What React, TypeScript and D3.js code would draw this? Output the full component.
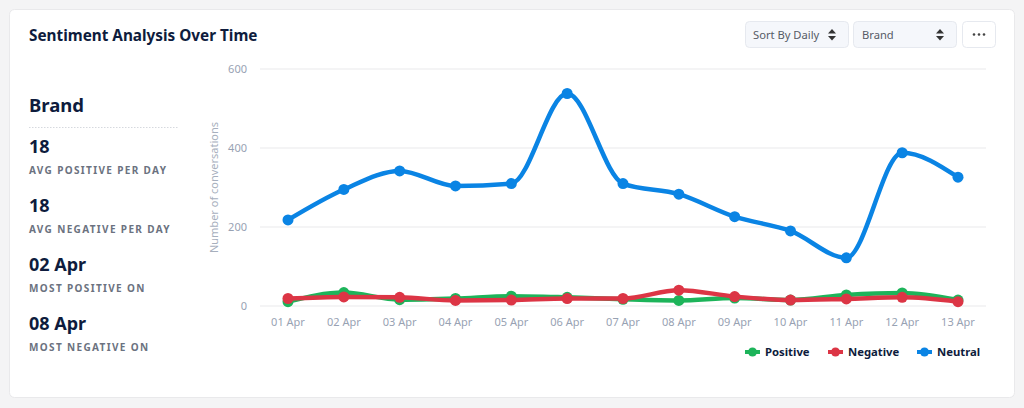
import React from "react";
import * as d3 from "d3";

const categories = ["01 Apr", "02 Apr", "03 Apr", "04 Apr", "05 Apr", "06 Apr", "07 Apr", "08 Apr", "09 Apr", "10 Apr", "11 Apr", "12 Apr", "13 Apr"];
const positive = [11, 34, 16, 19, 25, 22, 17, 14, 20, 15, 28, 33, 15];
const negative = [19, 23, 22, 14, 15, 19, 19, 40, 24, 15, 18, 22, 11];
const neutral = [218, 295, 342, 304, 310, 538, 310, 283, 226, 190, 122, 388, 326];
const yTicks = [0, 200, 400, 600];

const seriesNames = ["Positive", "Negative", "Neutral"];
const seriesColors = ["#1db45a", "#dc3545", "#0a84e4"];

const stats = [
  { value: "18", label: "AVG POSITIVE PER DAY" },
  { value: "18", label: "AVG NEGATIVE PER DAY" },
  { value: "02 Apr", label: "MOST POSITIVE ON" },
  { value: "08 Apr", label: "MOST NEGATIVE ON" },
];

const FONT = "'Noto Sans', sans-serif";

export default function App() {
  const W = 1024, H = 408;
  const x = d3.scalePoint<string>().domain(categories).range([288, 958]);
  const y = d3.scaleLinear().domain([0, 600]).range([306, 69]);
  const line = d3
    .line<number>()
    .x((_, i) => x(categories[i]) as number)
    .y((d) => y(d))
    .curve(d3.curveMonotoneX);

  const series = [positive, negative, neutral];
  const drawOrder = [2, 0, 1];

  const legendX = [745, 828, 917];

  const arrows = (cx: number, cy: number) => (
    <g fill="#333">
      <path d={`M${cx - 4},${cy - 1} L${cx + 4},${cy - 1} L${cx},${cy - 5.5} Z`} />
      <path d={`M${cx - 4},${cy + 1.5} L${cx + 4},${cy + 1.5} L${cx},${cy + 6} Z`} />
    </g>
  );

  return (
    <div style={{ position: "fixed", left: 0, top: 0 }}>
      <svg width={W} height={H} style={{ display: "block", fontFamily: FONT }}>
        <rect x={0} y={0} width={W} height={H} fill="#f4f4f5" />
        <rect x={9.5} y={9.5} width={1005} height={388} rx={5} fill="#ffffff" stroke="#e9e9eb" />

        <text x={29} y={41} fontSize={15.3} fontWeight={700} fill="#0e1c3d">
          Sentiment Analysis Over Time
        </text>

        {/* controls */}
        <rect x={745.5} y={21.5} width={103} height={26} rx={4} fill="#f5f7fb" stroke="#e6e9ef" />
        <text x={753} y={39} fontSize={11.2} fill="#555b66">Sort By Daily</text>
        {arrows(832, 34.5)}
        <rect x={853.5} y={21.5} width={103} height={26} rx={4} fill="#f5f7fb" stroke="#e6e9ef" />
        <text x={862} y={39} fontSize={11.2} fill="#555b66">Brand</text>
        {arrows(940, 34.5)}
        <rect x={962.5} y={21.5} width={33} height={26} rx={4} fill="#ffffff" stroke="#e6e9ef" />
        {[-5, 0, 5].map((d) => (
          <circle key={d} cx={979 + d} cy={34.5} r={1.3} fill="#444" />
        ))}

        {/* left panel */}
        <text x={29} y={112} fontSize={18.5} fontWeight={700} fill="#0e1c3d">Brand</text>
        <line x1={29} x2={178} y1={127.5} y2={127.5} stroke="#d6d9de" strokeDasharray="1.5 1.5" />
        {stats.map((s, i) => (
          <g key={i}>
            <text x={29} y={153 + i * 59} fontSize={18} fontWeight={700} fill="#0e1c3d">{s.value}</text>
            <text x={29} y={174 + i * 59} fontSize={10} fontWeight={700} fill="#6b7280" letterSpacing={1.35}>
              {s.label}
            </text>
          </g>
        ))}

        {/* grid */}
        {yTicks.map((t) => (
          <g key={t}>
            <line x1={260} x2={986} y1={y(t)} y2={y(t)} stroke="#f0f0f2" strokeWidth={1.5} />
            <text x={247} y={y(t) + 4} textAnchor="end" fontSize={11} fill="#98a2b3">{t}</text>
          </g>
        ))}
        <text
          transform={`translate(217.5,${(y(0) + y(600)) / 2}) rotate(-90)`}
          textAnchor="middle"
          fontSize={11}
          fill="#a7afbd"
        >
          Number of conversations
        </text>
        {categories.map((c) => (
          <text key={c} x={x(c)} y={326} textAnchor="middle" fontSize={11} fill="#98a2b3">{c}</text>
        ))}

        {/* series */}
        {drawOrder.map((si) => (
          <g key={si}>
            <path d={line(series[si]) || ""} fill="none" stroke={seriesColors[si]} strokeWidth={4.5} strokeLinecap="round" />
            {series[si].map((v, i) => (
              <circle key={i} cx={x(categories[i])} cy={y(v)} r={5.5} fill={seriesColors[si]} />
            ))}
          </g>
        ))}

        {/* legend */}
        {seriesNames.map((n, i) => (
          <g key={n}>
            <rect x={legendX[i]} y={350} width={15} height={4} fill={seriesColors[i]} />
            <circle cx={legendX[i] + 7.5} cy={352} r={4.5} fill={seriesColors[i]} />
            <text x={legendX[i] + 20} y={356} fontSize={11.3} fontWeight={700} fill="#0e1c3d">{n}</text>
          </g>
        ))}
      </svg>
    </div>
  );
}
